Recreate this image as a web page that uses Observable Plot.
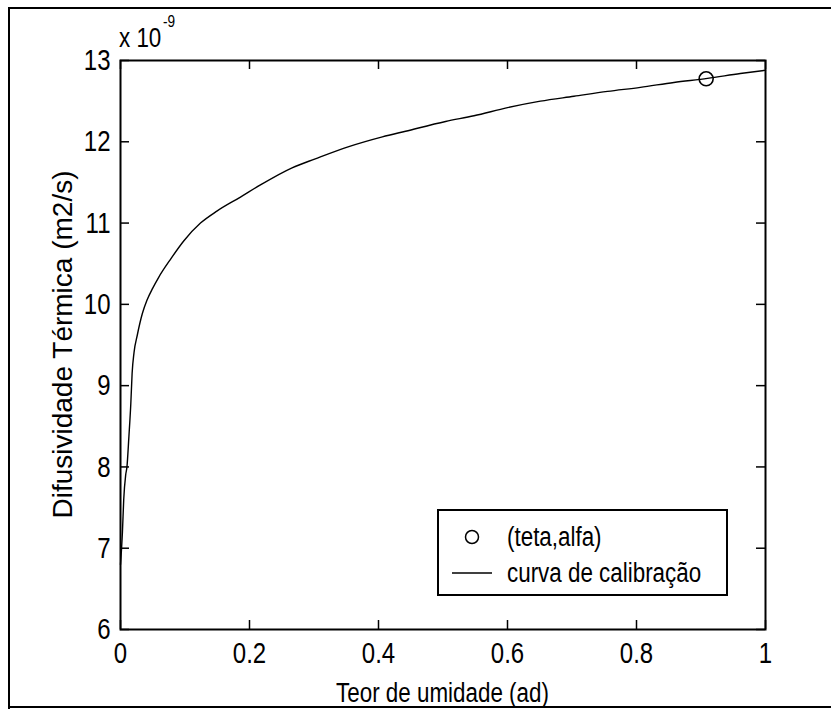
<!DOCTYPE html>
<html>
<head>
<meta charset="utf-8">
<script src="https://cdn.jsdelivr.net/npm/d3@7"></script>
<script src="https://cdn.jsdelivr.net/npm/@observablehq/plot@0.6"></script>
<style>
  html, body { margin: 0; padding: 0; background: #fff; }
  #wrap { position: relative; width: 831px; height: 709px; overflow: hidden; background: #fff; }
  #wrap > svg { position: absolute; left: 0; top: 0; }
</style>
</head>
<body>
<div id="wrap"></div>
<script>
// Curve "curva de calibração" (teta, alfa) — alfa in units of 1e-9 m2/s
const teta = [0, 0.003, 0.005, 0.008, 0.010, 0.013, 0.016, 0.018, 0.021, 0.026, 0.034, 0.041, 0.050, 0.059, 0.078, 0.098, 0.124, 0.150, 0.186, 0.217, 0.266, 0.302, 0.354, 0.406, 0.442, 0.504, 0.548, 0.600, 0.651, 0.703, 0.755, 0.806, 0.858, 0.910, 0.961, 1.0];
const alfa = [6.8, 7.2, 7.6, 7.9, 8.0, 8.37, 8.78, 9.15, 9.41, 9.62, 9.89, 10.05, 10.2, 10.33, 10.56, 10.78, 11.0, 11.15, 11.32, 11.47, 11.68, 11.79, 11.94, 12.06, 12.13, 12.25, 12.32, 12.42, 12.5, 12.56, 12.62, 12.67, 12.73, 12.78, 12.84, 12.88];
// Measured point "(teta,alfa)"
const pointTeta = [0.908];
const pointAlfa = [12.775];
// Ticks
const xTicks = [0, 0.2, 0.4, 0.6, 0.8, 1];
const xTickLabels = ["0", "0.2", "0.4", "0.6", "0.8", "1"];
const yTicks = [6, 7, 8, 9, 10, 11, 12, 13];
const yTickLabels = ["6", "7", "8", "9", "10", "11", "12", "13"];
const xLabel = "Teor de umidade (ad)";
const yLabel = "Difusividade Térmica (m2/s)";
const exponentText = "x 10";
const exponentSup = "-9";
const legendLabels = ["(teta,alfa)", "curva de calibração"];

const curve = teta.map((t, i) => ({teta: t, alfa: alfa[i]}));
const pts = pointTeta.map((t, i) => ({teta: t, alfa: pointAlfa[i]}));

const W = 831, H = 709;
const mL = 120, mR = 66, mT = 60, mB = 80;
const plotW = W - mL - mR, plotH = H - mT - mB;
const tickLen = 9;
const FONT = '"Liberation Sans", Arial, sans-serif';
const NARROW = 0.8;

const chart = Plot.plot({
  width: W,
  height: H,
  marginLeft: mL, marginRight: mR, marginTop: mT, marginBottom: mB,
  style: {fontFamily: FONT, fontSize: "29px", color: "#000", background: "transparent"},
  x: {domain: [0, 1]},
  y: {domain: [6, 13]},
  marks: [
    Plot.frame({stroke: "#000", strokeWidth: 2}),
    // inward ticks, all four sides
    Plot.tickX(xTicks, {x: d => d, insetTop: plotH - tickLen, stroke: "#000", strokeWidth: 1.5}),
    Plot.tickX(xTicks, {x: d => d, insetBottom: plotH - tickLen, stroke: "#000", strokeWidth: 1.5}),
    Plot.tickY(yTicks, {y: d => d, insetRight: plotW - tickLen, stroke: "#000", strokeWidth: 1.5}),
    Plot.tickY(yTicks, {y: d => d, insetLeft: plotW - tickLen, stroke: "#000", strokeWidth: 1.5}),
    Plot.axisX(xTicks, {anchor: "bottom", tickSize: 0, tickPadding: 12, tickFormat: (d, i) => xTickLabels[i], label: null, fontSize: 30}),
    Plot.axisY(yTicks, {anchor: "left", tickSize: 0, tickPadding: 10, tickFormat: (d, i) => yTickLabels[i], label: null, fontSize: 30}),
    Plot.line(curve, {x: "teta", y: "alfa", stroke: "#000", strokeWidth: 1.4, curve: "monotone-x"}),
    Plot.dot(pts, {x: "teta", y: "alfa", r: 7, stroke: "#000", strokeWidth: 1.6, fill: "none"})
  ]
});

const wrap = document.getElementById("wrap");
wrap.appendChild(chart);

const svg = d3.select(chart);
// narrow the tick labels around their anchor (MATLAB-like condensed font)
svg.selectAll('g[aria-label$="tick label"] text').each(function () {
  const t = this.getAttribute("transform") || "";
  this.setAttribute("transform", t + ` scale(${NARROW},1)`);
});

// outer figure border (left, top, bottom)
svg.append("path")
  .attr("d", `M9,${H} L9,8 L${W},8 M9,707 L${W},707`)
  .attr("fill", "none").attr("stroke", "#000").attr("stroke-width", 2);

// axis titles
svg.append("text")
  .attr("transform", `translate(${(mL + W - mR) / 2},702) scale(${NARROW},1)`)
  .attr("text-anchor", "middle")
  .style("font-family", FONT).style("font-size", "28px").attr("fill", "#000")
  .text(xLabel);
svg.append("text")
  .attr("transform", `translate(72,${(mT + H - mB) / 2}) rotate(-90)`)
  .attr("text-anchor", "middle")
  .style("font-family", FONT).style("font-size", "28px").attr("fill", "#000")
  .text(yLabel);

// exponent label
const ex = svg.append("text").attr("transform", `translate(119,47) scale(${NARROW},1)`)
  .attr("text-anchor", "start")
  .style("font-family", FONT).style("font-size", "28px").attr("fill", "#000");
ex.append("tspan").text(exponentText);
ex.append("tspan").attr("dy", -20).attr("dx", 2).style("font-size", "17px").text(exponentSup);

// legend
const lgX = 438, lgY = 510, lgW = 289, lgH = 85;
const lg = svg.append("g").attr("transform", `translate(${lgX},${lgY})`);
lg.append("rect").attr("width", lgW).attr("height", lgH)
  .attr("fill", "#fff").attr("stroke", "#000").attr("stroke-width", 2);
lg.append("circle").attr("cx", 34).attr("cy", 27).attr("r", 6.5)
  .attr("fill", "none").attr("stroke", "#000").attr("stroke-width", 1.5);
lg.append("line").attr("x1", 14).attr("x2", 54).attr("y1", 63).attr("y2", 63)
  .attr("stroke", "#000").attr("stroke-width", 1.4);
legendLabels.forEach((s, i) => {
  lg.append("text")
    .attr("transform", `translate(69,${36 + i * 36}) scale(${NARROW},1)`)
    .attr("text-anchor", "start")
    .style("font-family", FONT).style("font-size", "28px").attr("fill", "#000")
    .text(s);
});
</script>
</body>
</html>
